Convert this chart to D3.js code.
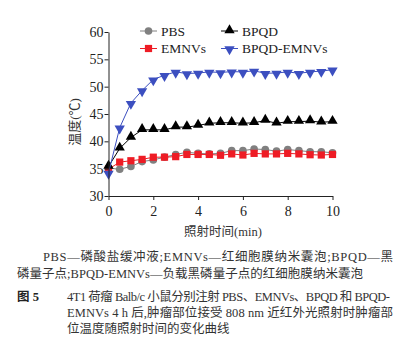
<!DOCTYPE html>
<html>
<head>
<meta charset="utf-8">
<script src="https://cdn.jsdelivr.net/npm/d3@7"></script>
<style>
  body { margin: 0; background: #fff; }
  svg { display: block; }
  .serif { font-family: "Liberation Serif", "Noto Sans CJK SC", serif; }
</style>
</head>
<body>
<svg id="chart" width="409" height="359"></svg>
<script>
// data (temperature in ℃, every 0.5 min)
const times = d3.range(0, 10.01, 0.5);
const pbs = [35.1, 34.9, 35.4, 36.3, 36.6, 37.1, 37.6, 38.0, 37.8, 37.7, 37.8, 38.3, 38.3, 38.6, 38.5, 38.2, 38.5, 38.3, 38.1, 38.1, 37.9];
const emnvs = [34.9, 36.2, 36.45, 36.7, 37.1, 37.1, 37.2, 37.6, 37.6, 37.6, 37.45, 37.7, 37.5, 37.8, 37.7, 37.7, 37.8, 37.7, 37.55, 37.5, 37.6];
const bpqd = [35.4, 38.7, 40.7, 42.1, 42.1, 42.1, 42.6, 42.6, 42.9, 43.3, 43.4, 43.4, 43.3, 43.4, 43.8, 43.3, 43.6, 43.6, 43.7, 43.5, 43.6];
const bpqdEmnvs = [34.2, 42.5, 47.0, 49.3, 51.3, 52.1, 52.7, 52.4, 52.5, 52.7, 52.6, 52.75, 52.7, 52.9, 52.45, 52.5, 52.7, 52.45, 52.7, 52.85, 53.1];
const xTicks = [0, 2, 4, 6, 8, 10];
const yTicks = [30, 35, 40, 45, 50, 55, 60];

const series = [
  { name: "PBS", values: pbs, color: "#808080", marker: "circle" },
  { name: "BPQD", values: bpqd, color: "#000000", marker: "triangle" },
  { name: "EMNVs", values: emnvs, color: "#ee1c25", marker: "square" },
  { name: "BPQD-EMNVs", values: bpqdEmnvs, color: "#3c4fc0", marker: "triangleDown" }
];

const svg = d3.select("#chart");
const x = d3.scaleLinear().domain([0, 10]).range([108.5, 332.5]);
const y = d3.scaleLinear().domain([30, 60]).range([196, 32]);

// markers
const symbols = {
  circle: d3.symbol().type(d3.symbolCircle).size(46),
  square: d3.symbol().type(d3.symbolSquare).size(52),
  triangle: d3.symbol().type(d3.symbolTriangle).size(46),
  triangleDown: d3.symbol().type(d3.symbolTriangle).size(46)
};
function drawMarker(g, s, px, py) {
  const rot = s.marker === "triangleDown" ? " rotate(180)" : "";
  const dy = s.marker === "triangle" ? -0.8 : (s.marker === "triangleDown" ? 0.8 : 0);
  g.append("path")
    .attr("d", symbols[s.marker]())
    .attr("transform", "translate(" + px + "," + (py + dy) + ")" + rot)
    .attr("fill", s.color);
}

// draw series in order so red and grey overlap like the original
const drawOrder = [series[0], series[2], series[1], series[3]];
const line = d3.line().x((d, i) => x(times[i])).y(d => y(d));
drawOrder.forEach(s => {
  svg.append("path")
    .datum(s.values)
    .attr("d", line)
    .attr("fill", "none")
    .attr("stroke", s.color)
    .attr("stroke-width", 1);
  const g = svg.append("g");
  s.values.forEach((v, i) => drawMarker(g, s, x(times[i]), y(v)));
});

// axes
const xAxis = svg.append("g")
  .attr("transform", "translate(0,196)")
  .call(d3.axisBottom(x).tickValues(xTicks).tickSize(4).tickSizeOuter(0));
const yAxis = svg.append("g")
  .attr("transform", "translate(108.5,0)")
  .call(d3.axisLeft(y).tickValues(yTicks).tickSize(4).tickSizeOuter(0));
[xAxis, yAxis].forEach(a => {
  a.select(".domain").attr("stroke", "#222");
  a.selectAll(".tick line").attr("stroke", "#222");
  a.selectAll("text")
    .attr("class", "serif")
    .style("font-size", "14px")
    .attr("fill", "#222");
});
xAxis.selectAll("text").attr("dy", "0.9em");
yAxis.selectAll("text").attr("x", -5);

// axis titles
svg.append("text")
  .attr("class", "serif")
  .attr("transform", "translate(79,122) rotate(-90)")
  .attr("text-anchor", "middle")
  .style("font-size", "13px")
  .attr("fill", "#333")
  .text("温度(℃)");
svg.append("text")
  .attr("class", "serif")
  .attr("x", 223)
  .attr("y", 236)
  .attr("text-anchor", "middle")
  .style("font-size", "12.5px")
  .attr("fill", "#333")
  .text("照射时间(min)");

// legend
const legendPos = [[140, 31], [221, 31], [140, 48.5], [221, 48.5]];
series.forEach((s, i) => {
  const [lx, ly] = legendPos[i];
  const g = svg.append("g");
  g.append("line")
    .attr("x1", lx).attr("x2", lx + 17)
    .attr("y1", ly).attr("y2", ly)
    .attr("stroke", s.color).attr("stroke-width", 1);
  drawMarker(g, s, lx + 8.5, ly);
  g.append("text")
    .attr("class", "serif")
    .attr("x", lx + 21)
    .attr("y", ly + 4.5)
    .style("font-size", "13.5px")
    .attr("fill", "#222")
    .text(s.name);
});

// caption
const caption = [
  { t: "PBS—磷酸盐缓冲液;EMNVs—红细胞膜纳米囊泡;BPQD—黑", x: 43, y: 261, w: 350 },
  { t: "磷量子点;BPQD-EMNVs—负载黑磷量子点的红细胞膜纳米囊泡", x: 17, y: 278, w: 346 },
  { t: "4T1 荷瘤 Balb/c 小鼠分别注射 PBS、EMNVs、BPQD 和 BPQD-", x: 67, y: 301, w: 323 },
  { t: "EMNVs 4 h 后,肿瘤部位接受 808 nm 近红外光照射时肿瘤部", x: 67, y: 317, w: 326 },
  { t: "位温度随照射时间的变化曲线", x: 67, y: 333, w: null }
];
caption.forEach(c => {
  const t = svg.append("text")
    .attr("class", "serif")
    .attr("x", c.x)
    .attr("y", c.y)
    .style("font-size", "12.5px")
    .attr("fill", "#333")
    .text(c.t);
  if (c.w) t.attr("textLength", c.w).attr("lengthAdjust", "spacing");
});
svg.append("text")
  .attr("class", "serif")
  .attr("x", 17)
  .attr("y", 301)
  .style("font-size", "12.5px")
  .style("font-weight", "bold")
  .attr("fill", "#222")
  .text("图 5");
</script>
</body>
</html>
